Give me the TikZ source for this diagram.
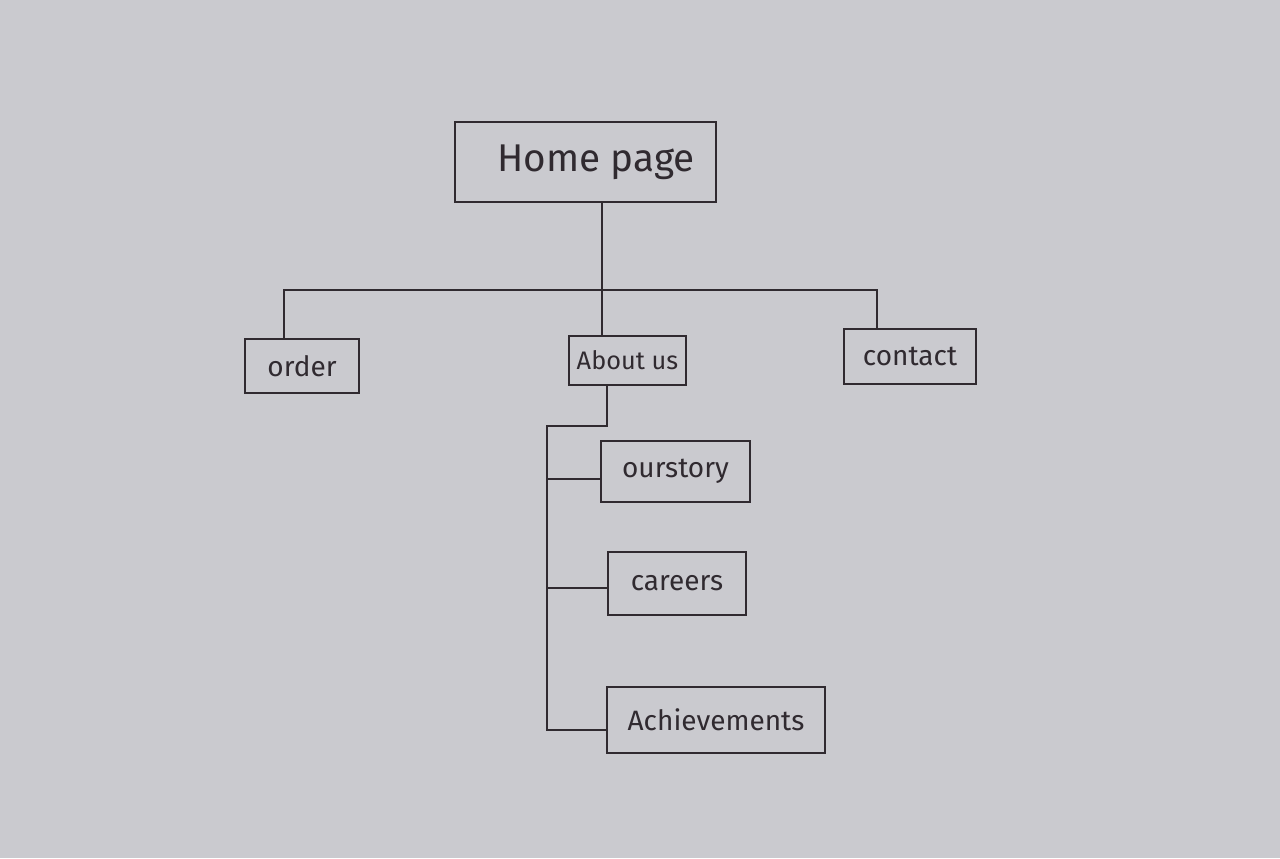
\documentclass[tikz,border=0pt]{standalone}
\usepackage{fontspec}
\usetikzlibrary{calc}
\setmainfont{Fira Sans}
\definecolor{paper}{RGB}{202,202,207}
\definecolor{ink}{RGB}{48,42,48}
\begin{document}
\begin{tikzpicture}[x=0.75pt,y=-0.75pt,
  box/.style={draw=ink, line width=1.2pt, inner sep=0pt, text=ink},
  link/.style={draw=ink, line width=1.2pt},
  big/.style={font=\fontsize{29}{32}\selectfont},
  small/.style={font=\fontsize{21}{24}\selectfont}]
  % sheet of paper
  \fill[paper] (0,0) rectangle (1280,858);
  \useasboundingbox (0,0) rectangle (1280,858);

  % boxes
  \node[box,big,minimum width=261*0.75pt,minimum height=80*0.75pt] (home) at (585.5,162) {\hspace*{16pt}Home page};
  \node[box,small,minimum width=114*0.75pt,minimum height=54*0.75pt] (order) at (302,366) {order};
  \node[box,font=\fontsize{19}{22}\selectfont,minimum width=117*0.75pt,minimum height=49*0.75pt] (about) at (627.5,360.5) {About us};
  \node[box,small,minimum width=132*0.75pt,minimum height=55*0.75pt] (contact) at (910,356.5) {contact};
  \node[box,small,minimum width=149*0.75pt,minimum height=61*0.75pt] (story) at (675.5,471.5) {ourstory};
  \node[box,small,minimum width=138*0.75pt,minimum height=63*0.75pt] (careers) at (677,583.5) {careers};
  \node[box,small,minimum width=218*0.75pt,minimum height=66*0.75pt] (achieve) at (716,720) {Achievements};

  % junction points
  \coordinate (trunk) at (602,290);
  \coordinate (stem) at (607,426);
  \coordinate (spine) at (547,426);
  \coordinate (toStory) at ($(story.south west)!0.38!(story.north west)$);
  \coordinate (toCareers) at ($(careers.south west)!0.43!(careers.north west)$);
  \coordinate (toAchieve) at ($(achieve.south west)!0.35!(achieve.north west)$);

  % first level
  \draw[link] (home.south -| trunk) -- (about.north -| trunk);
  \draw[link] (order.north -| 284,0) |- (trunk) -| (contact.north -| 877,0);

  % second level
  \draw[link] (about.south -| stem) -- (stem) -- (spine) |- (toAchieve);
  \draw[link] (spine |- toStory) -- (toStory);
  \draw[link] (spine |- toCareers) -- (toCareers);
\end{tikzpicture}
\end{document}
